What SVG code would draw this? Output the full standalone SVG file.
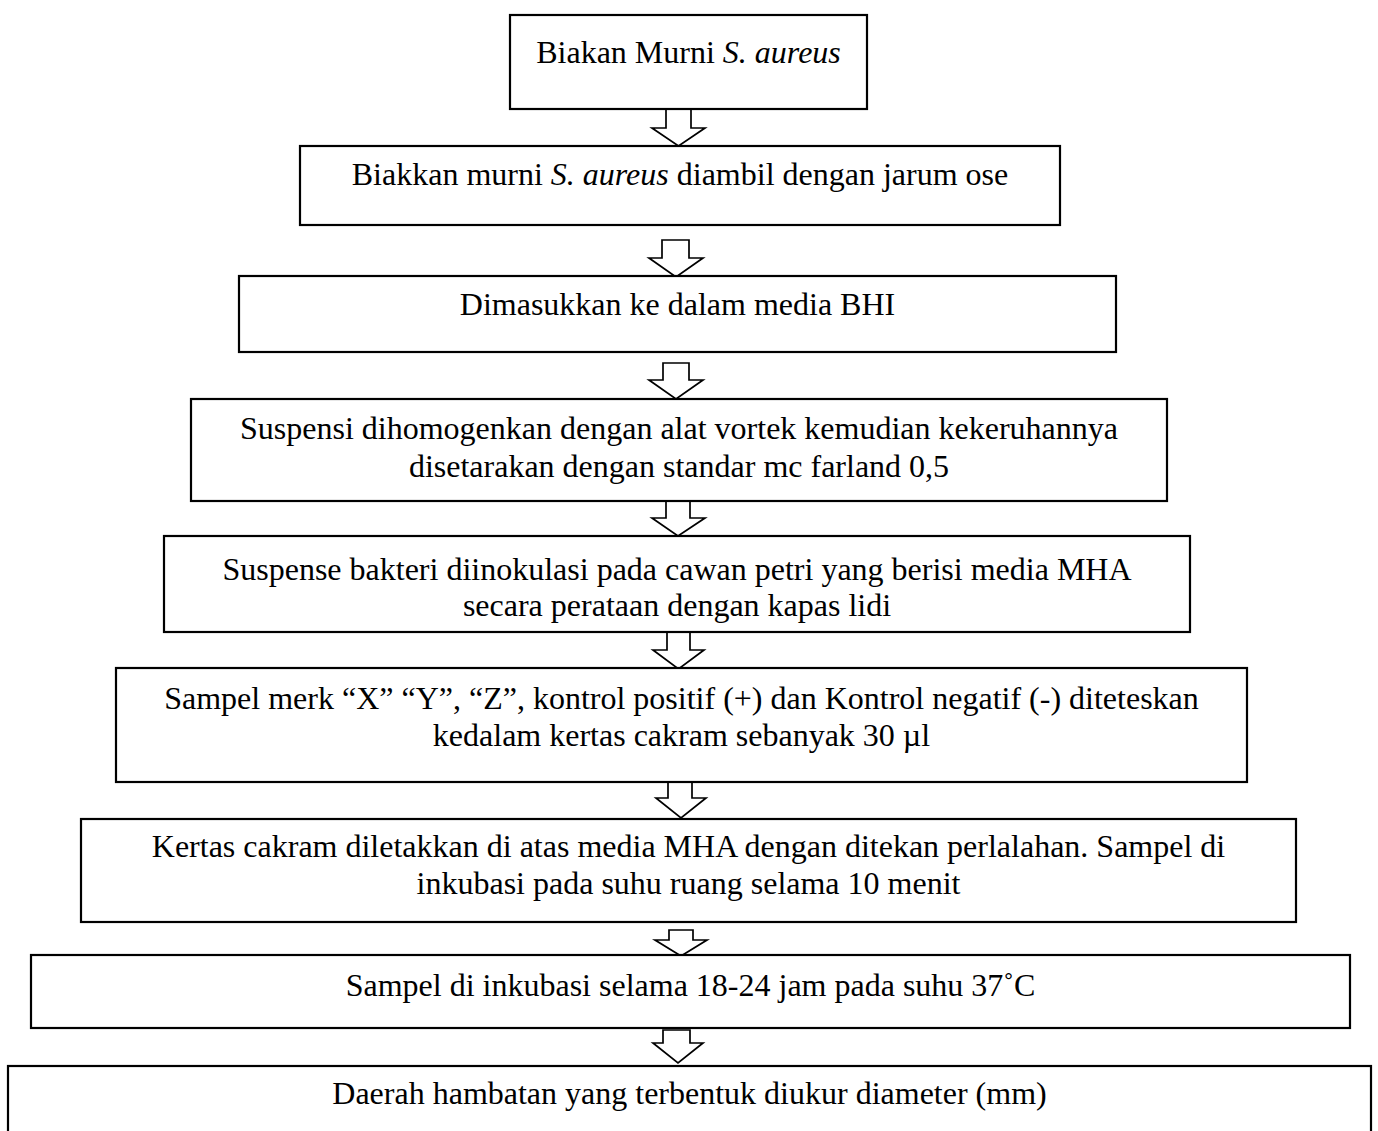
<svg xmlns="http://www.w3.org/2000/svg" width="1378" height="1131" viewBox="0 0 1378 1131">
<style>
.box{fill:#fff;stroke:#000;stroke-width:2.2}
.arr{fill:#fff;stroke:#000;stroke-width:1.7;stroke-linejoin:miter}
text{font-family:"Liberation Serif","Times New Roman",serif;font-size:32px;fill:#000;text-anchor:middle}
.it{font-style:italic}
</style>
<rect width="1378" height="1131" fill="#fff"/>
<g id="connectors">
<path class="arr" d="M666,109 V128 H652 L678.5,146 L705,128 H691 V109"/>
<path class="arr" d="M662,240 V258 H649 L676,277 L703,258 H689 V240 Z"/>
<path class="arr" d="M663,363 V380 H649 L676,399 L703,380 H689 V363 Z"/>
<path class="arr" d="M666,501 V518 H652 L678,536 L705,518 H690 V501"/>
<path class="arr" d="M667,632 V650 H653 L678.5,669 L704,650 H690 V632"/>
<path class="arr" d="M668,782 V798 H656 L681,818 L706,798 H692 V782"/>
<path class="arr" d="M669,930 V940 H655 L681,956 L707,940 H693 V930 Z"/>
<path class="arr" d="M663,1030 V1043 H653 L678,1063 L703,1043 H690 V1030 Z"/>
</g>
<g id="n1"><rect class="box" x="510" y="15" width="357" height="94"/>
<text x="688.5" y="63">Biakan Murni <tspan class="it">S. aureus</tspan></text></g>
<g id="n2"><rect class="box" x="300" y="146" width="760" height="79"/>
<text x="680" y="185">Biakkan murni <tspan class="it">S. aureus</tspan> diambil dengan jarum ose</text></g>
<g id="n3"><rect class="box" x="239" y="276" width="877" height="76"/>
<text x="677.5" y="315">Dimasukkan ke dalam media BHI</text></g>
<g id="n4"><rect class="box" x="191" y="399" width="976" height="102"/>
<text x="679" y="439">Suspensi dihomogenkan dengan alat vortek kemudian kekeruhannya</text>
<text x="679" y="477">disetarakan dengan standar mc farland 0,5</text></g>
<g id="n5"><rect class="box" x="164" y="536" width="1026" height="96"/>
<text x="677" y="580">Suspense bakteri diinokulasi pada cawan petri yang berisi media MHA</text>
<text x="677" y="616">secara perataan dengan kapas lidi</text></g>
<g id="n6"><rect class="box" x="116" y="668" width="1131" height="114"/>
<text x="681.5" y="709">Sampel merk “X” “Y”, “Z”, kontrol positif (+) dan Kontrol negatif (-) diteteskan</text>
<text x="681.5" y="746">kedalam kertas cakram sebanyak 30 µl</text></g>
<g id="n7"><rect class="box" x="81" y="819" width="1215" height="103"/>
<text x="688.5" y="857">Kertas cakram diletakkan di atas media MHA dengan ditekan perlalahan. Sampel di</text>
<text x="688.5" y="894">inkubasi pada suhu ruang selama 10 menit</text></g>
<g id="n8"><rect class="box" x="31" y="955" width="1319" height="73"/>
<text x="690.5" y="996">Sampel di inkubasi selama 18-24 jam pada suhu 37˚C</text></g>
<g id="n9"><rect class="box" x="8" y="1066" width="1363" height="90"/>
<text x="689.5" y="1104">Daerah hambatan yang terbentuk diukur diameter (mm)</text></g>
</svg>
